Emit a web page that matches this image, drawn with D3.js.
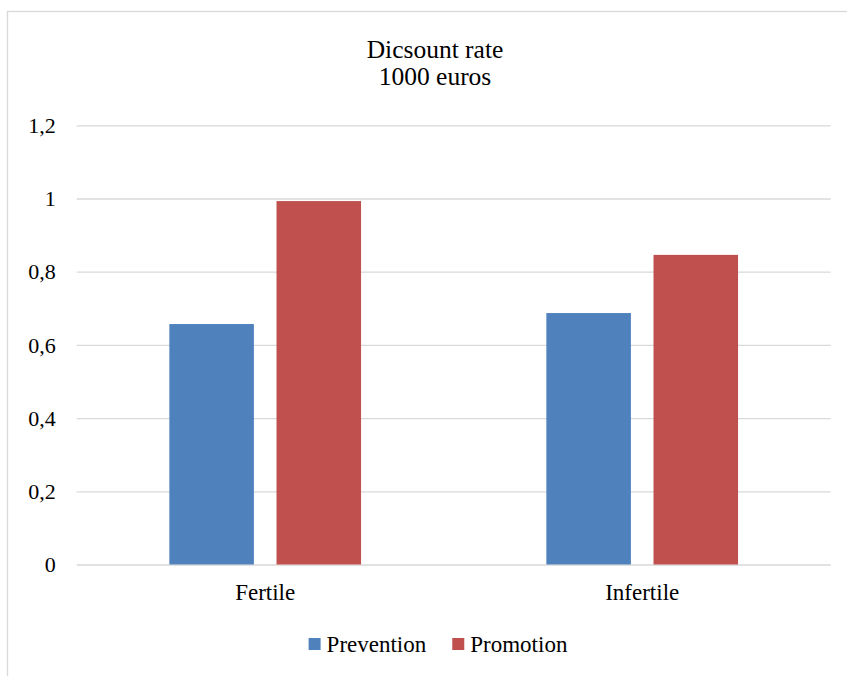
<!DOCTYPE html>
<html>
<head>
<meta charset="utf-8">
<script src="https://cdn.jsdelivr.net/npm/d3@7"></script>
</head>
<body style="margin:0">
<svg id="chart" width="847" height="676" font-family="Liberation Serif"></svg>
<script>
const titleLines = ["Dicsount rate", "1000 euros"];
const categories = ["Fertile", "Infertile"];
const seriesNames = ["Prevention", "Promotion"];
const prevention = [0.657, 0.687];
const promotion = [0.993, 0.846];
const yTicks = [0, 0.2, 0.4, 0.6, 0.8, 1, 1.2];
const yTickLabels = ["0", "0,2", "0,4", "0,6", "0,8", "1", "1,2"];
const colors = ["#4F81BD", "#C0504D"];

const FONT = "Liberation Serif";
const svg = d3.select("#chart");
const plot = { left: 76.7, right: 830.7, top: 125.3, bottom: 564.5 };

// outer chart border
svg.append("rect")
  .attr("x", 7.5).attr("y", 11.5)
  .attr("width", 1000).attr("height", 1000)
  .attr("fill", "none").attr("stroke", "#D9D9D9").attr("stroke-width", 1.3);

// title
titleLines.forEach((t, i) => {
  svg.append("text").attr("x", 435).attr("y", 58 + i * 27).attr("text-anchor", "middle")
    .attr("font-family", FONT).attr("font-size", 25.5).attr("fill", "#000").text(t);
});

const y = d3.scaleLinear().domain([0, 1.2]).range([plot.bottom, plot.top]);
const x0 = d3.scaleBand().domain(categories).range([plot.left, plot.right])
  .paddingInner(0.4915).paddingOuter(0.4915 / 2);
const x1 = d3.scaleBand().domain(seriesNames).range([0, x0.bandwidth()])
  .paddingInner(0.211).paddingOuter(0);

// gridlines + value labels
const yAxis = d3.axisLeft(y).tickValues(yTicks)
  .tickFormat((d, i) => yTickLabels[i])
  .tickSize(-(plot.right - plot.left)).tickPadding(20);
const gy = svg.append("g").attr("transform", `translate(${plot.left},0)`).call(yAxis);
gy.attr("font-family", FONT).attr("font-size", 22);
gy.select(".domain").remove();
gy.selectAll(".tick line").attr("stroke", "#D9D9D9").attr("stroke-width", 1.3);
gy.selectAll(".tick text").attr("fill", "#000").attr("x", -21).attr("dy", "0.33em");

// bars
const data = categories.map((c, i) => ({ cat: c, vals: [prevention[i], promotion[i]] }));
const groups = svg.append("g").selectAll("g").data(data).join("g")
  .attr("transform", d => `translate(${x0(d.cat)},0)`);
groups.selectAll("rect").data(d => d.vals.map((v, j) => ({ s: seriesNames[j], v, j })))
  .join("rect")
  .attr("x", d => x1(d.s))
  .attr("width", x1.bandwidth())
  .attr("y", d => y(d.v))
  .attr("height", d => y(0) - y(d.v))
  .attr("fill", d => colors[d.j]);

// category axis
const xAxis = d3.axisBottom(x0).tickSize(0).tickPadding(0);
const gx = svg.append("g").attr("transform", `translate(0,${plot.bottom})`).call(xAxis);
gx.attr("font-family", FONT).attr("font-size", 23);
gx.select(".domain").remove();
gx.selectAll(".tick text").attr("fill", "#000").attr("y", 35.5).attr("dy", 0);

// legend
const legend = svg.append("g").attr("font-family", FONT).attr("font-size", 23);
const items = legend.selectAll("g").data(seriesNames).join("g");
items.append("rect").attr("width", 12).attr("height", 12).attr("y", 638)
  .attr("fill", (d, i) => colors[i]);
items.append("text").attr("x", 18).attr("y", 652).attr("fill", "#000").text(d => d);
const widths = [];
items.each(function () { widths.push(18 + this.querySelector("text").getComputedTextLength()); });
const gap = 26;
const total = d3.sum(widths) + gap * (widths.length - 1);
let cx = 438 - total / 2;
items.attr("transform", (d, i) => {
  const t = `translate(${cx},0)`;
  cx += widths[i] + gap;
  return t;
});
</script>
</body>
</html>
